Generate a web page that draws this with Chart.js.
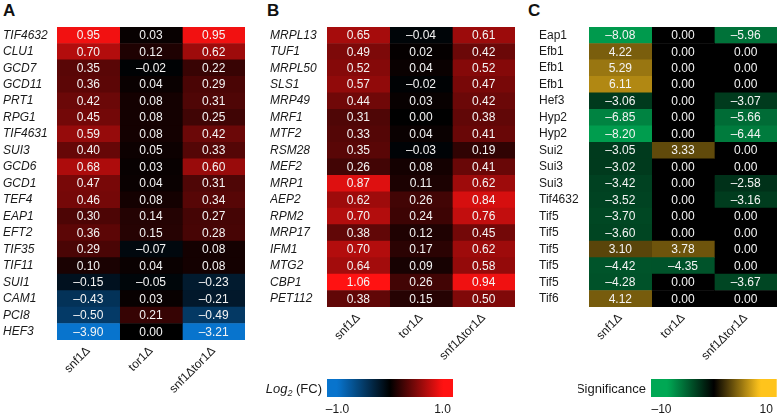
<!DOCTYPE html>
<html>
<head>
<meta charset="utf-8">
<script src="https://cdn.jsdelivr.net/npm/chart.js@4.4.1/dist/chart.umd.min.js"></script>
<style>
  body { margin: 0; background: #fff; width: 778px; height: 414px; overflow: hidden; position: relative; }
  canvas { position: absolute; }
  .tag { position: absolute; top: 2px; font: bold 17px 'Liberation Sans', Arial, sans-serif; color: #111; line-height: 17px; }
</style>
</head>
<body>
<div class="tag" style="left:3px">A</div>
<div class="tag" style="left:267px">B</div>
<div class="tag" style="left:528px">C</div>
<canvas id="heatA" width="258" height="414" style="left:0;top:0"></canvas>
<canvas id="heatB" width="258" height="365" style="left:260px;top:0"></canvas>
<canvas id="heatC" width="258" height="365" style="left:520px;top:0"></canvas>
<canvas id="barB" width="200" height="54" style="left:260px;top:360px"></canvas>
<canvas id="barC" width="200" height="54" style="left:578px;top:360px"></canvas>
<script>
// ---- data ----
const strains = ['snf1\u0394', 'tor1\u0394', 'snf1\u0394tor1\u0394'];

// Panel A: translation factors, Log2 fold change
const genesA = ['TIF4632', 'CLU1', 'GCD7', 'GCD11', 'PRT1', 'RPG1', 'TIF4631', 'SUI3', 'GCD6', 'GCD1',
  'TEF4', 'EAP1', 'EFT2', 'TIF35', 'TIF11', 'SUI1', 'CAM1', 'PCI8', 'HEF3'];
const snf1A = [0.95, 0.70, 0.35, 0.36, 0.42, 0.45, 0.59, 0.40, 0.68, 0.47, 0.46, 0.30, 0.36, 0.29, 0.10, -0.15, -0.43, -0.50, -3.90];
const tor1A = [0.03, 0.12, -0.02, 0.04, 0.08, 0.08, 0.08, 0.05, 0.03, 0.04, 0.08, 0.14, 0.15, -0.07, 0.04, -0.05, 0.03, 0.21, 0.00];
const bothA = [0.95, 0.62, 0.22, 0.29, 0.31, 0.25, 0.42, 0.33, 0.60, 0.31, 0.34, 0.27, 0.28, 0.08, 0.08, -0.23, -0.21, -0.49, -3.21];

// Panel B: mitochondrial translation, Log2 fold change
const genesB = ['MRPL13', 'TUF1', 'MRPL50', 'SLS1', 'MRP49', 'MRF1', 'MTF2', 'RSM28', 'MEF2', 'MRP1',
  'AEP2', 'RPM2', 'MRP17', 'IFM1', 'MTG2', 'CBP1', 'PET112'];
const snf1B = [0.65, 0.49, 0.52, 0.57, 0.44, 0.31, 0.33, 0.35, 0.26, 0.87, 0.62, 0.70, 0.38, 0.70, 0.64, 1.06, 0.38];
const tor1B = [-0.04, 0.02, 0.04, -0.02, 0.03, 0.00, 0.04, -0.03, 0.08, 0.11, 0.26, 0.24, 0.12, 0.17, 0.09, 0.26, 0.15];
const bothB = [0.61, 0.42, 0.52, 0.47, 0.42, 0.38, 0.41, 0.19, 0.41, 0.62, 0.84, 0.76, 0.45, 0.62, 0.58, 0.94, 0.50];

// Panel C: phosphosite significance
const genesC = ['Eap1', 'Efb1', 'Efb1', 'Efb1', 'Hef3', 'Hyp2', 'Hyp2', 'Sui2', 'Sui3', 'Sui3',
  'Tif4632', 'Tif5', 'Tif5', 'Tif5', 'Tif5', 'Tif5', 'Tif6'];
const snf1C = [-8.08, 4.22, 5.29, 6.11, -3.06, -6.85, -8.20, -3.05, -3.02, -3.42, -3.52, -3.70, -3.60, 3.10, -4.42, -4.28, 4.12];
const tor1C = [0.00, 0.00, 0.00, 0.00, 0.00, 0.00, 0.00, 3.33, 0.00, 0.00, 0.00, 0.00, 0.00, 3.78, -4.35, 0.00, 0.00];
const bothC = [-5.96, 0.00, 0.00, 0.00, -3.07, -5.66, -6.44, 0.00, 0.00, -2.58, -3.16, 0.00, 0.00, 0.00, 0.00, -3.67, 0.00];

// colour bar ticks
const fcTicks = [-1, 1];
const sigTicks = [-10, 10];

// ---- styling ----
const FONT = "'Liberation Sans', Arial, sans-serif";
const RED_TOP = [255, 18, 18];
const BLUE_TOP = [8, 116, 205];
const GOLD_TOP = [255, 196, 28];
const GREEN_TOP = [0, 168, 84];
const SIG_SAT = 8.8;

function mix(top, t) {
  return 'rgb(' + top.map(c => Math.round(c * t)).join(',') + ')';
}
function fcColor(v) {
  const t = Math.max(-1, Math.min(1, v));
  return t >= 0 ? mix(RED_TOP, t) : mix(BLUE_TOP, -t);
}
function sigColor(v) {
  const t = Math.max(-1, Math.min(1, v / SIG_SAT));
  return t >= 0 ? mix(GOLD_TOP, t) : mix(GREEN_TOP, -t);
}
const fmt = v => v.toFixed(2).replace('-', '\u2013');

// write the value in the middle of each cell
const cellText = {
  id: 'cellText',
  afterDatasetsDraw(chart) {
    const { ctx } = chart;
    ctx.save();
    ctx.font = '12px ' + FONT;
    ctx.fillStyle = '#f4f4f4';
    ctx.textAlign = 'center';
    ctx.textBaseline = 'middle';
    chart.data.datasets.forEach((ds, i) => {
      chart.getDatasetMeta(i).data.forEach((bar, j) => {
        const p = bar.getProps(['x', 'y', 'base'], true);
        ctx.fillText(fmt(ds.values[j]), (p.x + p.base) / 2, p.y + 0.5);
      });
    });
    ctx.restore();
  }
};

// --------------------------------------------------------
// Heatmap: one floating bar per cell, columns on a 0..3 axis
// --------------------------------------------------------
function renderHeatmap(canvasId, genes, columns, colorFn, lay) {
  const datasets = columns.map((vals, c) => ({
    data: genes.map(() => [c, c + 1]),
    values: vals,
    backgroundColor: vals.map(colorFn),
    borderWidth: 0,
    borderSkipped: false,
    grouped: false,
    barPercentage: 1,
    categoryPercentage: 1,
  }));

  return new Chart(document.getElementById(canvasId), {
    type: 'bar',
    data: { labels: genes, datasets },
    plugins: [cellText],
    options: {
      indexAxis: 'y',
      responsive: false,
      animation: false,
      events: [],
      layout: { padding: { left: lay.padLeft, right: lay.padRight, top: 27, bottom: 0 } },
      plugins: { legend: { display: false }, tooltip: { enabled: false } },
      scales: {
        x: {
          type: 'linear',
          min: 0,
          max: 3,
          grid: { display: false, drawTicks: false },
          border: { display: false },
          afterBuildTicks: s => { s.ticks = [0.5, 1.5, 2.5].map(value => ({ value })); },
          afterFit: s => { s.height = lay.xHeight; },
          ticks: {
            minRotation: 45,
            maxRotation: 45,
            padding: 4,
            color: '#1a1a1a',
            font: { family: FONT, size: 12 },
            callback: v => strains[Math.floor(v)],
          },
        },
        y: {
          type: 'category',
          grid: { display: false, drawTicks: false },
          border: { display: false },
          afterFit: s => { s.width = lay.yWidth; },
          ticks: {
            crossAlign: 'far',
            autoSkip: false,
            color: '#1a1a1a',
            font: { family: FONT, size: 12, style: lay.italic ? 'italic' : 'normal' },
          },
        },
      },
    },
  });
}

// --------------------------------------------------------
// Colour bar: a single floating bar filled with the colour map
// --------------------------------------------------------
const barLabel = {
  id: 'barLabel',
  afterDraw(chart, args, opts) {
    const { ctx, chartArea } = chart;
    ctx.save();
    ctx.fillStyle = '#1a1a1a';
    ctx.textBaseline = 'alphabetic';
    const parts = opts.parts;
    const widths = parts.map(p => { ctx.font = p.font; return ctx.measureText(p.text).width; });
    let x = chartArea.left - 5 - widths.reduce((a, b) => a + b, 0);
    const base = (chartArea.top + chartArea.bottom) / 2 + 4.5;
    parts.forEach((p, i) => {
      ctx.font = p.font;
      ctx.fillText(p.text, x, base + (p.dy || 0));
      x += widths[i];
    });
    ctx.restore();
  }
};

function renderColorBar(canvasId, range, ticks, colorFn, tickFmt, parts, pad) {
  return new Chart(document.getElementById(canvasId), {
    type: 'bar',
    data: {
      labels: [''],
      datasets: [{
        data: [range],
        borderWidth: 0,
        barPercentage: 1,
        categoryPercentage: 1,
        backgroundColor: c => {
          const area = c.chart.chartArea;
          if (!area) return '#000';
          const g = c.chart.ctx.createLinearGradient(area.left, 0, area.right, 0);
          for (let i = 0; i <= 40; i++) {
            g.addColorStop(i / 40, colorFn(range[0] + (range[1] - range[0]) * i / 40));
          }
          return g;
        },
      }],
    },
    plugins: [barLabel],
    options: {
      indexAxis: 'y',
      responsive: false,
      animation: false,
      events: [],
      layout: { padding: { left: pad.left, right: pad.right, top: 19, bottom: 0 } },
      plugins: { legend: { display: false }, tooltip: { enabled: false }, barLabel: { parts } },
      scales: {
        x: {
          type: 'linear',
          min: range[0],
          max: range[1],
          grid: { display: false, drawTicks: false },
          border: { display: false },
          afterBuildTicks: s => { s.ticks = ticks.map(value => ({ value })); },
          afterFit: s => { s.height = 17; },
          ticks: {
            padding: 5,
            maxRotation: 0,
            color: '#1a1a1a',
            font: { family: FONT, size: 12 },
            callback: tickFmt,
          },
        },
        y: { display: false },
      },
    },
  });
}

renderHeatmap('heatA', genesA, [snf1A, tor1A, bothA], fcColor,
  { padLeft: 3, padRight: 13, yWidth: 54, xHeight: 74, italic: true });
renderHeatmap('heatB', genesB, [snf1B, tor1B, bothB], fcColor,
  { padLeft: 10, padRight: 3, yWidth: 57, xHeight: 58, italic: true });
renderHeatmap('heatC', genesC, [snf1C, tor1C, bothC], sigColor,
  { padLeft: 19, padRight: 1, yWidth: 50, xHeight: 58, italic: false });

renderColorBar('barB', [-1.2, 1.2], fcTicks, fcColor, v => v.toFixed(1).replace('-', '\u2013'), [
  { text: 'Log', font: 'italic 13px ' + FONT },
  { text: '2', font: 'italic 9px ' + FONT, dy: 3 },
  { text: ' (FC)', font: '13px ' + FONT },
], { left: 67, right: 7 });
renderColorBar('barC', [-12, 12], sigTicks, sigColor, v => String(v).replace('-', '\u2013'), [
  { text: 'Significance', font: '13px ' + FONT },
], { left: 73, right: 1 });
</script>
</body>
</html>
